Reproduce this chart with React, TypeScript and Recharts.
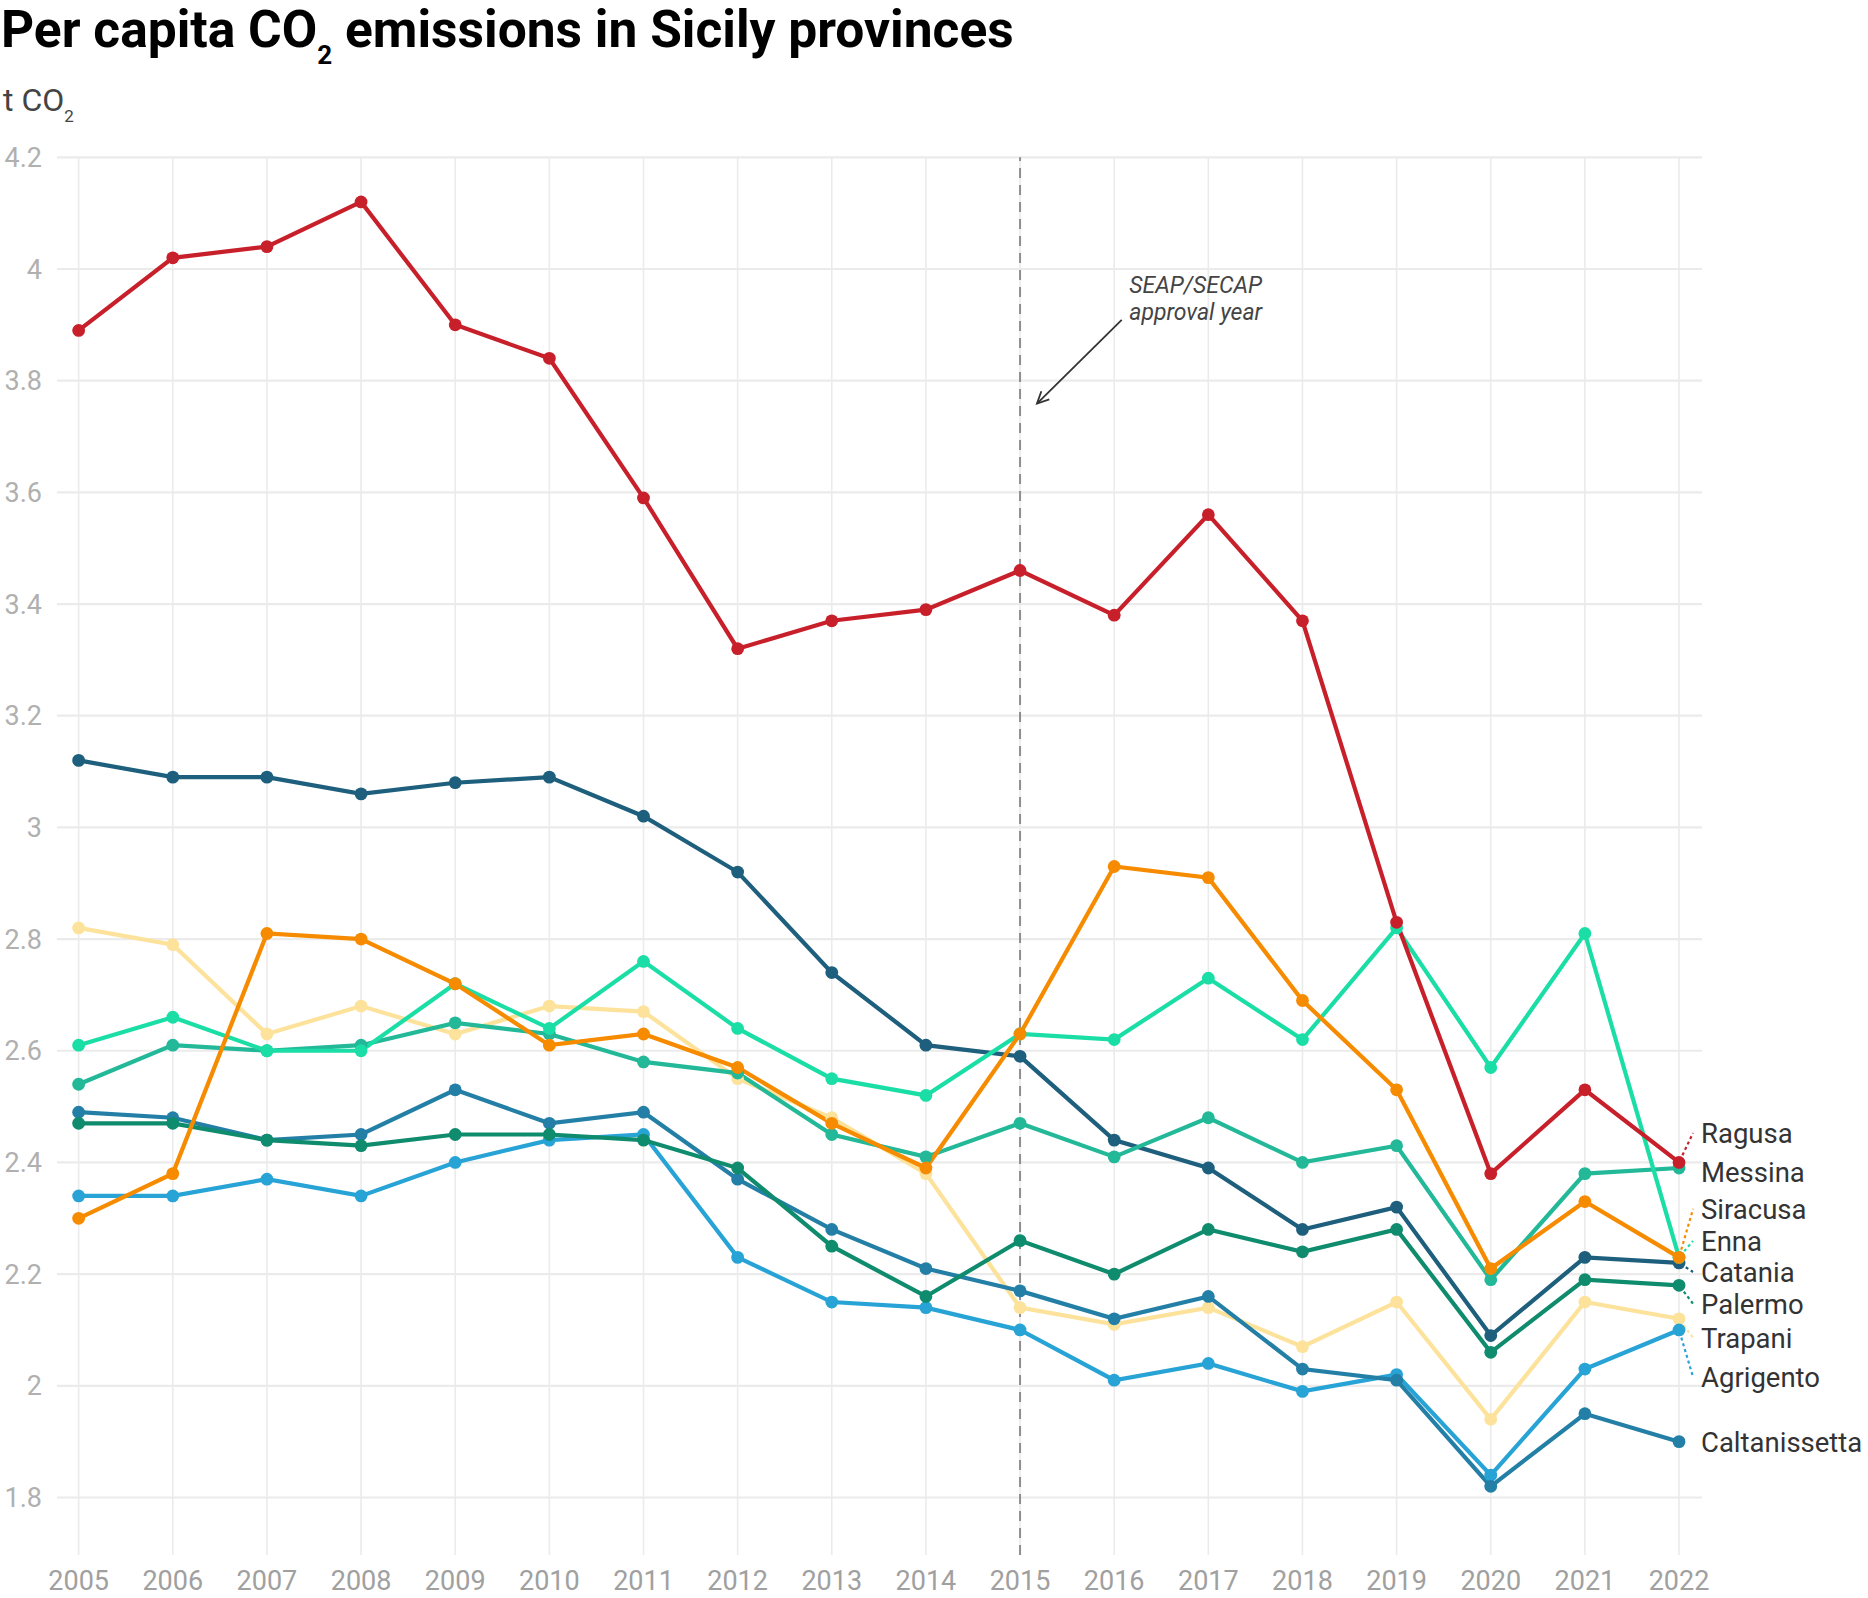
import React from 'react';
import { LineChart, Line, XAxis, YAxis, CartesianGrid, ReferenceLine, ReferenceDot } from 'recharts';

// ---------- data ----------
const years = [2005, 2006, 2007, 2008, 2009, 2010, 2011, 2012, 2013, 2014, 2015, 2016, 2017, 2018, 2019, 2020, 2021, 2022];

const ragusa = [3.89, 4.02, 4.04, 4.12, 3.9, 3.84, 3.59, 3.32, 3.37, 3.39, 3.46, 3.38, 3.56, 3.37, 2.83, 2.38, 2.53, 2.4];
const catania = [3.12, 3.09, 3.09, 3.06, 3.08, 3.09, 3.02, 2.92, 2.74, 2.61, 2.59, 2.44, 2.39, 2.28, 2.32, 2.09, 2.23, 2.22];
const siracusa = [2.3, 2.38, 2.81, 2.8, 2.72, 2.61, 2.63, 2.57, 2.47, 2.39, 2.63, 2.93, 2.91, 2.69, 2.53, 2.21, 2.33, 2.23];
const enna = [2.61, 2.66, 2.6, 2.6, 2.72, 2.64, 2.76, 2.64, 2.55, 2.52, 2.63, 2.62, 2.73, 2.62, 2.82, 2.57, 2.81, 2.23];
const messina = [2.54, 2.61, 2.6, 2.61, 2.65, 2.63, 2.58, 2.56, 2.45, 2.41, 2.47, 2.41, 2.48, 2.4, 2.43, 2.19, 2.38, 2.39];
const palermo = [2.47, 2.47, 2.44, 2.43, 2.45, 2.45, 2.44, 2.39, 2.25, 2.16, 2.26, 2.2, 2.28, 2.24, 2.28, 2.06, 2.19, 2.18];
const caltanissetta = [2.49, 2.48, 2.44, 2.45, 2.53, 2.47, 2.49, 2.37, 2.28, 2.21, 2.17, 2.12, 2.16, 2.03, 2.01, 1.82, 1.95, 1.9];
const trapani = [2.82, 2.79, 2.63, 2.68, 2.63, 2.68, 2.67, 2.55, 2.48, 2.38, 2.14, 2.11, 2.14, 2.07, 2.15, 1.94, 2.15, 2.12];
const agrigento = [2.34, 2.34, 2.37, 2.34, 2.4, 2.44, 2.45, 2.23, 2.15, 2.14, 2.1, 2.01, 2.04, 1.99, 2.02, 1.84, 2.03, 2.1];

const yTicks = [1.8, 2.0, 2.2, 2.4, 2.6, 2.8, 3.0, 3.2, 3.4, 3.6, 3.8, 4.0, 4.2];
const approvalYear = 2015;
const annotationLines = ['SEAP/SECAP', 'approval year'];

// ---------- styling / layout ----------
const series = [
  { name: 'Trapani', values: trapani, color: '#fde29b', labelDy: 19 },
  { name: 'Agrigento', values: agrigento, color: '#27a3d6', labelDy: 47 },
  { name: 'Caltanissetta', values: caltanissetta, color: '#237fa6', labelDy: 1 },
  { name: 'Palermo', values: palermo, color: '#0f8b6d', labelDy: 18.5 },
  { name: 'Catania', values: catania, color: '#1d5f7c', labelDy: 9 },
  { name: 'Messina', values: messina, color: '#22b898', labelDy: 4 },
  { name: 'Enna', values: enna, color: '#1bdea6', labelDy: -16.5 },
  { name: 'Siracusa', values: siracusa, color: '#f68b00', labelDy: -48.5 },
  { name: 'Ragusa', values: ragusa, color: '#c8202b', labelDy: -29.5 },
];

const data = years.map((year, i) => {
  const row: Record<string, number> = { year };
  series.forEach((s) => {
    row[s.name] = s.values[i];
  });
  return row;
});

const FONT = 'Roboto, "Noto Sans", sans-serif';
const W = 1868;
const H = 1598;
const lastIndex = years.length - 1;

const makeDot = (s: { name: string; color: string; labelDy: number }) => (p: any) => {
  const { cx, cy, index } = p;
  if (cx == null || cy == null) return <g key={`d-${s.name}-${index}`} />;
  const circle = <circle cx={cx} cy={cy} r={6.4} fill={s.color} stroke="none" />;
  if (index !== lastIndex) {
    return <g key={`d-${s.name}-${index}`}>{circle}</g>;
  }
  const ly = cy + s.labelDy;
  const ex = cx + 14;
  const ey = ly;
  const dx = ex - cx;
  const dy = ey - cy;
  const len = Math.sqrt(dx * dx + dy * dy);
  const showSeg = Math.abs(s.labelDy) > 6;
  const sx = cx + (dx / len) * 8;
  const sy = cy + (dy / len) * 8;
  return (
    <g key={`d-${s.name}-${index}`}>
      {showSeg && (
        <line x1={sx} y1={sy} x2={ex} y2={ey} stroke={s.color} strokeWidth={2.2} strokeDasharray="3 3" />
      )}
      {circle}
      <text x={cx + 22} y={ly} dy="0.355em" fontFamily={FONT} fontSize={27.5} fill="#333333">
        {s.name}
      </text>
    </g>
  );
};

const ArrowShape = (p: any) => {
  const { x1, y1, x2, y2 } = p;
  if (x1 == null) return <g />;
  const ang = Math.atan2(y2 - y1, x2 - x1);
  const hl = 13;
  const a1 = ang + Math.PI - 0.45;
  const a2 = ang + Math.PI + 0.45;
  return (
    <g>
      <line x1={x1} y1={y1} x2={x2} y2={y2} stroke="#333" strokeWidth={1.8} />
      <polyline
        points={`${x2 + hl * Math.cos(a1)},${y2 + hl * Math.sin(a1)} ${x2},${y2} ${x2 + hl * Math.cos(a2)},${y2 + hl * Math.sin(a2)}`}
        fill="none"
        stroke="#333"
        strokeWidth={1.8}
      />
    </g>
  );
};

const AnnotationText = (p: any) => {
  const { cx, cy } = p;
  if (cx == null) return <g />;
  return (
    <g>
      {annotationLines.map((t, i) => (
        <text key={t} x={cx} y={cy + i * 27} fontFamily={FONT} fontStyle="italic" fontSize={23} fill="#444">
          {t}
        </text>
      ))}
    </g>
  );
};

const fmtY = (v: number) => String(Number(v.toFixed(1)));

export default function App() {
  return (
    <div style={{ position: 'absolute', left: 0, top: 0, width: W, height: H, background: '#fff' }}>
      <div
        style={{
          position: 'absolute',
          left: 1,
          top: 4,
          fontFamily: FONT,
          fontWeight: 700,
          fontSize: 51.5,
          lineHeight: 1,
          color: '#000',
          whiteSpace: 'nowrap',
        }}
      >
        Per capita CO
        <span style={{ fontSize: 26, position: 'relative', top: 17 }}>2</span> emissions in Sicily provinces
      </div>
      <div
        style={{
          position: 'absolute',
          left: 3,
          top: 84,
          fontFamily: FONT,
          fontWeight: 400,
          fontSize: 32,
          lineHeight: 1,
          color: '#444',
          whiteSpace: 'nowrap',
        }}
      >
        t CO<span style={{ fontSize: 17, position: 'relative', top: 11 }}>2</span>
      </div>
      <div style={{ position: 'absolute', left: 0, top: 0 }}>
        <LineChart
          width={W}
          height={H}
          data={data}
          margin={{ top: 157.3, right: 166, bottom: 0, left: 0 }}
        >
          <CartesianGrid horizontal={true} vertical={false} syncWithTicks stroke="#ebebeb" strokeWidth={2.2} />
          <CartesianGrid horizontal={false} vertical={true} syncWithTicks stroke="#ebebeb" strokeWidth={1.6} />
          <XAxis
            type="number"
            dataKey="year"
            domain={[2004.77, 2022.244]}
            ticks={years}
            interval={0}
            axisLine={false}
            tickLine={false}
            tickSize={0}
            tickMargin={16}
            height={43}
            tick={{ fontFamily: FONT, fontSize: 27, fill: '#a0a0a0' }}
          />
          <YAxis
            type="number"
            domain={[1.697, 4.2]}
            ticks={yTicks}
            interval={0}
            axisLine={false}
            tickLine={false}
            tickSize={0}
            tickMargin={15}
            width={57}
            tickFormatter={fmtY}
            tick={{ fontFamily: FONT, fontSize: 27, fill: '#b0b0b0' }}
          />
          <ReferenceLine x={approvalYear} stroke="#8e8e8e" strokeWidth={2} strokeDasharray="10 7" />
          {series.map((s) => (
            <Line
              key={s.name}
              type="linear"
              dataKey={s.name}
              stroke={s.color}
              strokeWidth={4.2}
              dot={makeDot(s)}
              activeDot={false}
              isAnimationActive={false}
            />
          ))}
          <ReferenceLine
            segment={[
              { x: 2016.08, y: 3.909 },
              { x: 2015.18, y: 3.759 },
            ]}
            shape={ArrowShape}
          />
          <ReferenceDot x={2016.16} y={3.957} r={0} shape={AnnotationText} />
        </LineChart>
      </div>
    </div>
  );
}
